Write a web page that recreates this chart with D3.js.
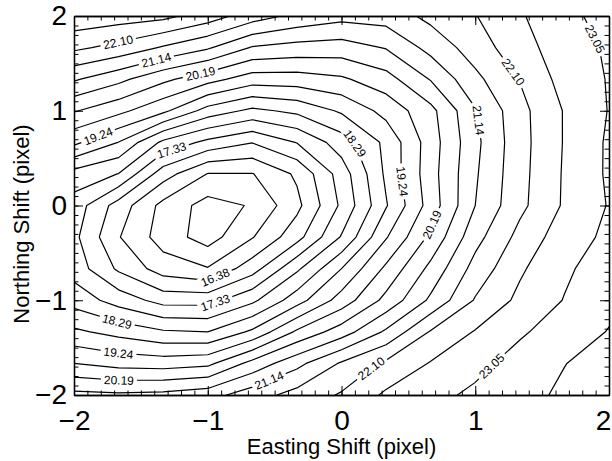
<!DOCTYPE html>
<html>
<head>
<meta charset="utf-8">
<script src="https://cdn.jsdelivr.net/npm/d3@7"></script>
<style>
body { margin: 0; background: #fff; }
svg { display: block; }
</style>
</head>
<body>
<svg id="chart" width="612" height="461"></svg>
<script>
// sample positions of the grid (pixel shifts), rows below go from top (y = 2) to bottom (y = -2)
var gridX = [-2, -1.667, -1.333, -1, -0.667, -0.333, 0, 0.333, 0.667, 1, 1.333, 1.667, 2];
var gridY = [2, 1.667, 1.333, 1, 0.667, 0.333, 0, -0.333, -0.667, -1, -1.333, -1.667, -2];

var row0  = [22.90, 22.80, 22.70, 22.35, 21.85, 21.50, 21.30, 21.35, 21.75, 22.08, 22.52, 22.90, 23.25];
var row1  = [22.20, 21.95, 21.57, 21.20, 20.63, 20.50, 20.45, 20.70, 21.30, 21.85, 22.40, 22.80, 23.12];
var row2  = [21.20, 20.80, 20.30, 19.90, 19.48, 19.50, 19.65, 20.00, 20.70, 21.50, 22.12, 22.75, 23.08];
var row3  = [20.23, 19.85, 19.35, 18.57, 18.18, 18.40, 18.83, 19.40, 20.05, 21.10, 21.95, 22.60, 23.07];
var row4  = [19.35, 18.75, 17.70, 17.20, 16.88, 17.35, 18.05, 18.88, 19.96, 21.02, 21.93, 22.60, 23.12];
var row5  = [18.10, 17.80, 16.60, 15.88, 15.88, 16.46, 17.55, 18.85, 20.00, 21.08, 21.95, 22.62, 23.12];
var row6  = [17.60, 16.65, 15.75, 15.25, 15.47, 16.25, 17.42, 18.72, 19.93, 21.14, 21.98, 22.63, 23.08];
var row7  = [17.45, 16.41, 15.68, 15.22, 15.87, 16.68, 17.85, 19.20, 20.30, 21.45, 22.25, 22.82, 23.15];
var row8  = [17.60, 16.78, 16.15, 15.93, 16.65, 17.72, 18.76, 19.82, 20.80, 21.80, 22.50, 22.97, 23.30];
var row9  = [18.10, 17.60, 17.15, 17.15, 17.70, 18.55, 19.45, 20.33, 21.23, 22.14, 22.68, 23.07, 23.42];
var row10 = [18.85, 18.60, 18.35, 18.29, 18.85, 19.80, 20.43, 21.22, 22.14, 22.60, 22.98, 23.30, 23.55];
var row11 = [19.72, 19.55, 19.50, 19.60, 20.35, 21.00, 21.68, 22.20, 22.60, 22.90, 23.25, 23.52, 23.70];
var row12 = [20.80, 20.75, 20.80, 20.95, 21.40, 21.80, 22.15, 22.65, 22.90, 23.15, 23.40, 23.60, 23.90];

var levels = [15.43, 15.90, 16.38, 16.86, 17.33, 17.81, 18.29, 18.76, 19.24, 19.72,
              20.19, 20.67, 21.14, 21.62, 22.10, 22.57, 23.05, 23.53];
var labelled = [16.38, 17.33, 18.29, 19.24, 20.19, 21.14, 22.10, 23.05];

var majorTicks = [-2, -1, 0, 1, 2];
var tickText = ["\u22122", "\u22121", "0", "1", "2"];

var svg = d3.select('#chart');
var plotL = 74, plotR = 609, plotT = 16, plotB = 395;
var font = '"Liberation Sans", Arial, sans-serif';

var x = d3.scaleLinear().domain([-2, 2]).range([plotL, plotR]);
var y = d3.scaleLinear().domain([-2, 2]).range([plotB, plotT]);

// d3.contours puts sample i at grid coordinate i + 0.5
var gx = d3.scaleLinear().domain([0.5, gridX.length - 0.5]).range([gridX[0], gridX[gridX.length - 1]]);
var gy = d3.scaleLinear().domain([0.5, gridY.length - 0.5]).range([gridY[0], gridY[gridY.length - 1]]);

var rows = [row0, row1, row2, row3, row4, row5, row6, row7, row8, row9, row10, row11, row12];
var values = [];
rows.forEach(function(r){ values = values.concat(r); });

var contours = d3.contours()
    .size([gridX.length, gridY.length])
    .thresholds(levels)(values);

var proj = d3.geoTransform({
    point: function(px, py) { this.stream.point(x(gx(px)), y(gy(py))); }
});
var path = d3.geoPath(proj);

var defs = svg.append('defs');
defs.append('clipPath').attr('id', 'plot-clip')
    .append('rect')
    .attr('x', plotL).attr('y', plotT)
    .attr('width', plotR - plotL).attr('height', plotB - plotT);

var lineLayer = svg.append('g').attr('clip-path', 'url(#plot-clip)');
var labelLayer = svg.append('g');

// visible pieces of every ring, in pixels
function pieces(c) {
    var out = [];
    var lo = 0.5 - 1e-6, hi = gridX.length - 0.5 + 1e-6;
    function inside(p) { return p[0] >= lo && p[0] <= hi && p[1] >= lo && p[1] <= hi; }
    c.coordinates.forEach(function(poly){
        poly.forEach(function(ring){
            var pts = ring.slice(0, ring.length - 1);
            var k = -1;
            for (var i = 0; i < pts.length; i++) { if (!inside(pts[i])) { k = i; break; } }
            if (k < 0) {
                out.push({closed: true, pts: pts.map(function(p){ return [x(gx(p[0])), y(gy(p[1]))]; })});
                return;
            }
            var rot = pts.slice(k).concat(pts.slice(0, k));
            var cur = [];
            rot.forEach(function(p){
                if (inside(p)) cur.push([x(gx(p[0])), y(gy(p[1]))]);
                else { if (cur.length > 1) out.push({closed: false, pts: cur}); cur = []; }
            });
            if (cur.length > 1) out.push({closed: false, pts: cur});
        });
    });
    return out;
}

// start at the lowest point / lowest end, closed rings run bottom -> right -> top
function orient(pc) {
    var pts = pc.pts;
    if (pc.closed) {
        var a = 0;
        for (var i = 0; i < pts.length; i++) {
            var p = pts[i], q = pts[(i + 1) % pts.length];
            a += p[0] * q[1] - q[0] * p[1];
        }
        if (a > 0) pts = pts.slice().reverse();
        var m = d3.maxIndex(pts, function(p){ return p[1]; });
        pts = pts.slice(m).concat(pts.slice(0, m));
        pts.push(pts[0]);
    } else {
        if (pts[pts.length - 1][1] > pts[0][1]) pts = pts.slice().reverse();
    }
    return pts;
}

function along(pts) {
    var cum = [0];
    for (var i = 1; i < pts.length; i++) {
        cum.push(cum[i - 1] + Math.hypot(pts[i][0] - pts[i - 1][0], pts[i][1] - pts[i - 1][1]));
    }
    return cum;
}

function pointAt(pts, cum, s) {
    var i = d3.bisectLeft(cum, s);
    if (i < 1) i = 1;
    if (i > pts.length - 1) i = pts.length - 1;
    var t = (s - cum[i - 1]) / ((cum[i] - cum[i - 1]) || 1);
    return [pts[i - 1][0] + t * (pts[i][0] - pts[i - 1][0]),
            pts[i - 1][1] + t * (pts[i][1] - pts[i - 1][1])];
}

var fmt = d3.format('.2f');
var labelStep = 370;

contours.forEach(function(c, li) {
    var isLab = labelled.some(function(v){ return Math.abs(v - c.value) < 1e-6; });
    var boxes = [];
    if (isLab) {
        pieces(c).forEach(function(pc){
            var pts = orient(pc);
            var cum = along(pts);
            var L = cum[cum.length - 1];
            var first = pc.closed ? 8 : 45;
            var endRoom = pc.closed ? 120 : 20;
            for (var s = first; s <= L - endRoom; s += labelStep) {
                var p = pointAt(pts, cum, s);
                var p0 = pointAt(pts, cum, Math.max(0, s - 9));
                var p1 = pointAt(pts, cum, Math.min(L, s + 9));
                var ang = Math.atan2(p1[1] - p0[1], p1[0] - p0[0]) * 180 / Math.PI;
                if (ang > 90) ang -= 180;
                if (ang <= -90) ang += 180;
                var t = labelLayer.append('text')
                    .attr('transform', 'translate(' + p[0] + ',' + p[1] + ') rotate(' + ang + ')')
                    .attr('text-anchor', 'middle')
                    .attr('dy', '0.35em')
                    .style('font-family', font)
                    .style('font-size', '12px')
                    .text(fmt(c.value));
                var w = t.node().getComputedTextLength();
                boxes.push({x: p[0], y: p[1], a: ang, w: w + 6});
            }
        });
    }
    var mask = defs.append('mask').attr('id', 'm' + li)
        .attr('maskUnits', 'userSpaceOnUse')
        .attr('x', 0).attr('y', 0).attr('width', 612).attr('height', 461);
    mask.append('rect').attr('width', 612).attr('height', 461).attr('fill', '#fff');
    boxes.forEach(function(b){
        mask.append('rect')
            .attr('x', -b.w / 2).attr('y', -5)
            .attr('width', b.w).attr('height', 10)
            .attr('transform', 'translate(' + b.x + ',' + b.y + ') rotate(' + b.a + ')')
            .attr('fill', '#000');
    });
    lineLayer.append('path')
        .attr('d', path(c))
        .attr('mask', 'url(#m' + li + ')')
        .attr('fill', 'none')
        .attr('stroke', '#000')
        .attr('stroke-width', 1.2)
        .attr('stroke-linejoin', 'round');
});

// frame ticks, all pointing inwards
var minor = x.ticks(40);
function styleAxis(g) {
    g.attr('font-size', null).attr('font-family', null);
    g.select('.domain').attr('stroke-width', 1.3);
    g.selectAll('.tick line').attr('stroke-width', 1);
    g.selectAll('text')
        .style('font-family', font)
        .style('font-size', '28px')
        .attr('fill', '#000');
}

svg.append('g').attr('transform', 'translate(0,' + plotB + ')')
    .call(d3.axisBottom(x).tickValues(minor).tickSize(-4.5).tickSizeOuter(0).tickFormat(''))
    .call(styleAxis);
svg.append('g').attr('transform', 'translate(0,' + plotB + ')')
    .call(d3.axisBottom(x).tickValues(majorTicks).tickSize(-9).tickSizeOuter(0).tickPadding(15)
        .tickFormat(function(d, i){ return tickText[i]; }))
    .call(styleAxis)
    .call(function(g){ g.selectAll('text').filter(function(d){ return d === 2; }).attr('dx', -6); });
svg.append('g').attr('transform', 'translate(0,' + plotT + ')')
    .call(d3.axisTop(x).tickValues(minor).tickSize(-4.5).tickSizeOuter(0).tickFormat(''))
    .call(styleAxis);
svg.append('g').attr('transform', 'translate(0,' + plotT + ')')
    .call(d3.axisTop(x).tickValues(majorTicks).tickSize(-9).tickSizeOuter(0).tickFormat(''))
    .call(styleAxis);

svg.append('g').attr('transform', 'translate(' + plotL + ',0)')
    .call(d3.axisLeft(y).tickValues(minor).tickSize(-4.5).tickSizeOuter(0).tickFormat(''))
    .call(styleAxis);
svg.append('g').attr('transform', 'translate(' + plotL + ',0)')
    .call(d3.axisLeft(y).tickValues(majorTicks).tickSize(-9).tickSizeOuter(0).tickPadding(7)
        .tickFormat(function(d, i){ return tickText[i]; }))
    .call(styleAxis);
svg.append('g').attr('transform', 'translate(' + plotR + ',0)')
    .call(d3.axisRight(y).tickValues(minor).tickSize(-4.5).tickSizeOuter(0).tickFormat(''))
    .call(styleAxis);
svg.append('g').attr('transform', 'translate(' + plotR + ',0)')
    .call(d3.axisRight(y).tickValues(majorTicks).tickSize(-9).tickSizeOuter(0).tickFormat(''))
    .call(styleAxis);

svg.append('text')
    .attr('x', (plotL + plotR) / 2).attr('y', 454)
    .attr('text-anchor', 'middle')
    .style('font-family', font)
    .style('font-size', '22px')
    .text('Easting Shift (pixel)');

svg.append('text')
    .attr('transform', 'translate(29,224) rotate(-90)')
    .attr('text-anchor', 'middle')
    .style('font-family', font)
    .style('font-size', '22px')
    .text('Northing Shift (pixel)');
</script>
</body>
</html>
